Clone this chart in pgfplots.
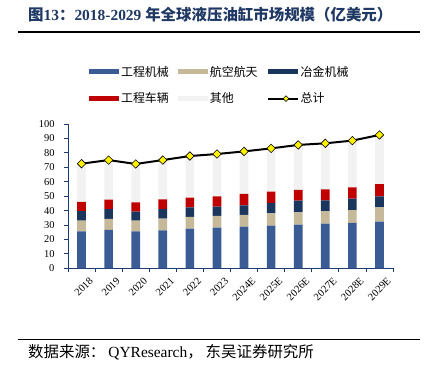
\documentclass[border=0pt]{standalone}
\usepackage{pgfplots}
\pgfplotsset{compat=1.18}
\usepackage{pgfplotstable}
\usetikzlibrary{shapes.geometric}
\usepackage{fontspec}
\setmainfont{Liberation Serif}
\newfontfamily\cjk{Noto Sans CJK SC}
\definecolor{cBlue}{HTML}{3A5B93}
\definecolor{cBeige}{HTML}{C6B99A}
\definecolor{cDark}{HTML}{1B365D}
\definecolor{cRed}{HTML}{C00000}
\definecolor{cGray}{HTML}{F2F2F2}
\definecolor{titleblue}{HTML}{1F3864}
\definecolor{axisblue}{HTML}{1F3A6E}
\pgfplotstableread{
x blue beige dark red other total
0 25.6 7.4 6.7 6.3 26.5 72.5
1 26.6 7.6 6.8 6.6 27.4 75.0
2 25.6 7.4 6.3 6.4 26.6 72.3
3 26.3 8.1 6.6 6.8 27.2 75.0
4 27.5 8.1 6.7 6.7 28.8 77.8
5 28.2 8.1 6.4 7.2 29.3 79.2
6 28.9 8.1 6.6 7.9 29.5 81.0
7 29.6 8.5 7.2 7.8 30.0 83.1
8 30.3 8.5 8.1 7.4 31.2 85.5
9 30.9 8.6 7.6 7.6 31.9 86.6
10 31.4 9.0 7.9 7.8 32.4 88.5
11 32.3 10.0 7.6 8.5 34.0 92.4
}\data
\begin{document}
\begin{tikzpicture}
\useasboundingbox (0bp,0bp) rectangle (436bp,373bp);
\node[anchor=west, text=titleblue, font=\fontsize{15.5}{17}\selectfont\bfseries, inner sep=0pt] at (28bp,358bp)
  {{\cjk 图}13{\cjk ：}2018-2029 {\cjk 年全球液压油缸市场规模（亿美元）}};
\draw[line width=1.5bp] (18bp,341bp) -- (420bp,341bp);
\draw[line width=1.5bp] (18bp,33.7bp) -- (420bp,33.7bp);
\node[anchor=west, font=\fontsize{15.5}{17}\selectfont, inner sep=0pt] at (28bp,20.5bp)
  {{\cjk 数据来源：}\hspace{3bp}QYResearch{\cjk ，}\hspace{3bp}{\cjk 东吴证券研究所}};
\begin{axis}[
  at={(68bp,104.7bp)}, anchor=south west,
  scale only axis, width=325bp, height=144.3bp,
  ybar stacked, bar width=0.32,
  xmin=-0.5, xmax=11.5, ymin=0, ymax=100,
  ytick={0,10,...,100},
  xtick={0,...,11},
  xticklabels={2018,2019,2020,2021,2022,2023,2024E,2025E,2026E,2027E,2028E,2029E},
  minor xtick={-0.5,0.5,...,11.5},
  major x tick style={draw=none},
  axis lines*=left,
  axis line style={draw=axisblue, line width=1bp},
  tick align=outside,
  tick style={draw=axisblue, line width=0.8bp},
  major tick length=4bp, minor tick length=4bp,
  /pgf/number format/assume math mode=true,
  x tick label style={rotate=45, anchor=north east, font=\fontsize{10.5}{12}\selectfont, inner sep=0pt, yshift=-8bp, xshift=2bp},
  y tick label style={font=\fontsize{10.5}{12}\selectfont, xshift=-6bp},
  legend columns=3,
  legend cell align=left,
  legend style={draw=none, fill=none, at={(0.055,1.43)}, anchor=north west,
    font=\cjk\fontsize{12}{14}\selectfont, row sep=11bp,
    /tikz/every even column/.append style={column sep=7bp}},
]
\addplot[fill=cBlue, draw=none, legend image code/.code={\fill[cBlue] (0bp,-2.5bp) rectangle (30bp,2.5bp);}] table[x=x,y=blue]{\data};
\addplot[fill=cBeige, draw=none, legend image code/.code={\fill[cBeige] (0bp,-2.5bp) rectangle (30bp,2.5bp);}] table[x=x,y=beige]{\data};
\addplot[fill=cDark, draw=none, legend image code/.code={\fill[cDark] (0bp,-2.5bp) rectangle (30bp,2.5bp);}] table[x=x,y=dark]{\data};
\addplot[fill=cRed, draw=none, legend image code/.code={\fill[cRed] (0bp,-2.5bp) rectangle (30bp,2.5bp);}] table[x=x,y=red]{\data};
\addplot[fill=cGray, draw=none, legend image code/.code={\fill[cGray] (0bp,-2.5bp) rectangle (30bp,2.5bp);}] table[x=x,y=other]{\data};
\addlegendimage{legend image code/.code={\draw[black, line width=2bp] (0bp,0bp) -- (30bp,0bp); \path (15bp,0bp) node[diamond, fill=yellow, draw=black, line width=0.6bp, inner sep=0pt, minimum size=6bp]{};}}
\legend{工程机械,航空航天,冶金机械,工程车辆,其他,总计}
\end{axis}
\begin{axis}[
  at={(68bp,104.7bp)}, anchor=south west,
  scale only axis, width=325bp, height=144.3bp,
  xmin=-0.5, xmax=11.5, ymin=0, ymax=100,
  hide axis,
]
\addplot[black, line width=2bp, mark=square*, mark size=3bp,
  mark options={fill=yellow, draw=black, rotate=45, line width=0.6bp, solid}] table[x=x,y=total]{\data};
\end{axis}
\end{tikzpicture}
\end{document}
